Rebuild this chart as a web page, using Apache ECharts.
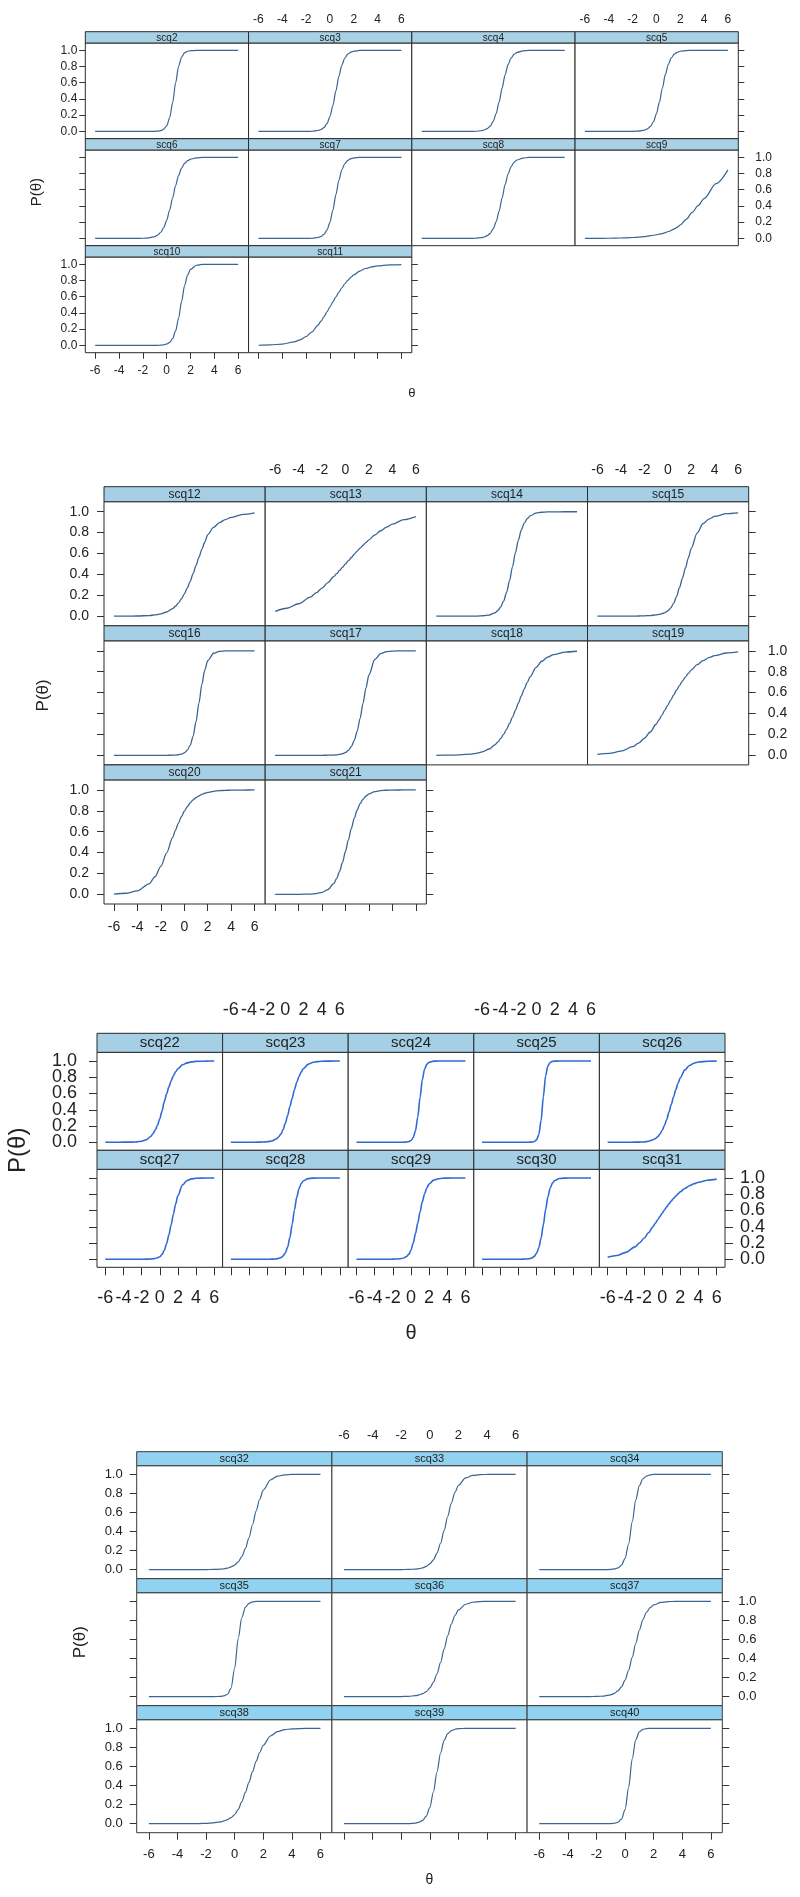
<!DOCTYPE html>
<html>
<head>
<meta charset="utf-8">
<script src="https://cdn.jsdelivr.net/npm/echarts@6/dist/echarts.min.js"></script>
<style>html,body{margin:0;padding:0;background:#fff}#c{width:800px;height:1897px}</style>
</head>
<body>
<div id="c"></div>
<script>
// ---------- data ----------
const THETA = [-6,-5,-4,-3,-2.5,-2,-1.5,-1,-0.75,-0.5,-0.25,0,0.25,0.5,0.75,1,1.25,1.5,1.75,2,2.5,3,3.5,4,5,6];
const X_TICKS = [-6,-4,-2,0,2,4,6];
const Y_TICKS = [0,0.2,0.4,0.6,0.8,1.0];

const scq2  = [0,0,0,0,0,0,0,.001,.004,.010,.027,.069,.168,.354,.599,.802,.917,.968,.988,.995,.999,1,1,1,1,1];
const scq3  = [0,0,0,0,0,.001,.002,.011,.023,.047,.095,.182,.321,.5,.679,.818,.905,.953,.977,.989,.998,.999,1,1,1,1];
const scq4  = [0,0,0,0,0,.001,.002,.008,.017,.034,.065,.123,.221,.364,.535,.698,.823,.904,.950,.974,.994,.998,1,1,1,1];
const scq5  = [0,0,0,0,0,.001,.004,.016,.032,.062,.119,.217,.361,.535,.702,.828,.907,.952,.976,.988,.997,.999,1,1,1,1];
const scq6  = [0,0,0,0,.001,.002,.007,.023,.042,.076,.133,.223,.349,.5,.651,.777,.867,.924,.958,.977,.993,.998,.999,1,1,1];
const scq7  = [0,0,0,0,0,.001,.002,.011,.024,.050,.102,.199,.350,.539,.717,.846,.923,.963,.983,.992,.998,1,1,1,1,1];
const scq8  = [0,0,0,0,0,.001,.002,.009,.017,.033,.063,.117,.206,.337,.5,.663,.794,.883,.937,.967,.991,.998,.999,1,1,1];
const scq9  = [0,.001,.002,.005,.007,.011,.016,.023,.028,.033,.039,.045,.052,.060,.071,.085,.100,.118,.140,.165,.235,.320,.405,.490,.675,.845];
const scq10 = [0,0,0,0,0,0,0,.001,.001,.003,.007,.017,.038,.085,.178,.336,.542,.735,.866,.938,.988,.998,1,1,1,1];
const scq11 = [.002,.006,.016,.043,.069,.109,.168,.250,.299,.354,.413,.475,.537,.599,.657,.711,.760,.802,.839,.870,.917,.948,.968,.980,.993,.997];
const scq12 = [0,.001,.002,.006,.012,.022,.040,.072,.095,.126,.165,.212,.269,.334,.407,.485,.565,.640,.710,.780,.850,.895,.925,.945,.975,.990];
const scq13 = [.047,.076,.119,.182,.223,.269,.321,.378,.407,.438,.469,.5,.531,.562,.593,.622,.651,.679,.706,.731,.777,.818,.852,.881,.924,.953];
const scq14 = [0,0,0,0,.001,.004,.011,.032,.054,.090,.147,.230,.341,.473,.608,.729,.824,.890,.933,.960,.986,.995,.998,.999,1,1];
const scq15 = [0,0,0,.001,.002,.003,.006,.012,.017,.024,.035,.050,.080,.125,.190,.275,.365,.460,.557,.650,.795,.885,.930,.955,.982,.990];
const scq16 = [0,0,0,0,0,0,0,.001,.002,.005,.011,.023,.047,.095,.182,.321,.5,.679,.818,.905,.977,.995,.999,1,1,1];
const scq17 = [0,0,0,0,0,0,.001,.002,.004,.008,.015,.027,.047,.083,.142,.231,.354,.5,.646,.769,.917,.973,.992,.998,1,1];
const scq18 = [0,.001,.004,.012,.021,.036,.060,.100,.127,.161,.202,.250,.305,.366,.432,.5,.568,.634,.695,.750,.839,.900,.940,.964,.988,.996];
const scq19 = [.009,.018,.039,.082,.116,.163,.223,.297,.340,.385,.433,.481,.529,.577,.625,.669,.711,.749,.784,.815,.867,.906,.934,.954,.979,.990];
const scq20 = [.002,.011,.034,.101,.169,.268,.398,.544,.616,.683,.743,.796,.839,.875,.904,.927,.944,.958,.968,.976,.987,.993,.996,.998,.999,1];
const scq21 = [0,0,.001,.003,.008,.019,.045,.103,.153,.221,.308,.411,.522,.632,.729,.808,.869,.912,.942,.962,.984,.994,.997,.999,1,1];
const scq22 = [0,0,.001,.002,.005,.012,.030,.070,.105,.150,.210,.290,.385,.5,.593,.679,.755,.818,.867,.905,.953,.977,.989,.995,.999,1];
const scq23 = [0,0,0,.001,.003,.006,.015,.040,.065,.100,.155,.235,.330,.437,.542,.645,.735,.809,.866,.908,.959,.982,.992,.997,.999,1];
const scq24 = [0,0,0,0,0,0,0,0,.001,.003,.008,.022,.057,.142,.310,.550,.769,.900,.961,.985,.998,1,1,1,1,1];
const scq25 = [0,0,0,0,0,0,0,0,.001,.002,.009,.029,.095,.269,.562,.818,.940,.982,.995,.998,1,1,1,1,1,1];
const scq26 = [0,0,0,.001,.002,.004,.012,.030,.045,.067,.100,.145,.205,.280,.372,.463,.556,.646,.726,.794,.891,.945,.973,.987,.997,.999];
const scq27 = [0,0,0,0,0,0,.001,.003,.006,.010,.018,.030,.060,.110,.190,.297,.420,.554,.679,.784,.914,.969,.989,.996,1,1];
const scq28 = [0,0,0,0,0,0,.001,.005,.010,.020,.040,.078,.149,.266,.428,.607,.761,.868,.932,.966,.992,.998,1,1,1,1];
const scq29 = [0,0,0,0,0,.001,.004,.010,.018,.032,.060,.110,.200,.316,.445,.582,.707,.807,.879,.926,.974,.991,.997,.999,1,1];
const scq30 = [0,0,0,0,0,0,.001,.004,.008,.017,.036,.072,.142,.259,.426,.611,.769,.875,.937,.969,.993,.998,1,1,1,1];
const scq31 = [.024,.046,.085,.152,.200,.258,.326,.402,.443,.484,.525,.566,.606,.644,.681,.716,.748,.778,.805,.830,.871,.904,.929,.948,.972,.986];
const scq32 = [0,0,0,0,0,.001,.002,.005,.009,.016,.028,.048,.082,.137,.220,.334,.471,.613,.738,.833,.940,.980,.994,.998,1,1];
const scq33 = [0,0,0,0,0,.001,.002,.006,.010,.019,.034,.060,.103,.174,.277,.411,.560,.698,.808,.885,.962,.988,.996,.999,1,1];
const scq34 = [0,0,0,0,0,0,0,.002,.007,.018,.047,.119,.269,.5,.731,.881,.953,.982,.993,.998,1,1,1,1,1,1];
const scq35 = [0,0,0,0,0,0,.001,.002,.007,.025,.090,.300,.611,.829,.937,.979,.993,.998,.999,1,1,1,1,1,1,1];
const scq36 = [0,0,0,0,0,.001,.003,.010,.018,.031,.053,.091,.151,.240,.360,.5,.640,.760,.849,.909,.969,.990,.997,.999,1,1];
const scq37 = [0,0,0,0,.001,.002,.006,.019,.034,.060,.103,.174,.277,.411,.560,.698,.808,.885,.933,.962,.988,.996,.999,1,1,1];
const scq38 = [0,0,0,.001,.001,.003,.008,.018,.028,.043,.064,.095,.150,.230,.327,.433,.545,.652,.746,.822,.919,.965,.986,.994,.999,1];
const scq39 = [0,0,0,0,0,0,.001,.006,.015,.035,.079,.171,.332,.544,.741,.873,.943,.975,.990,.996,.999,1,1,1,1,1];
const scq40 = [0,0,0,0,0,0,0,.001,.004,.014,.047,.148,.378,.679,.881,.963,.989,.997,.999,1,1,1,1,1,1,1];

const PANEL1_ITEMS = ['scq2','scq3','scq4','scq5','scq6','scq7','scq8','scq9','scq10','scq11'];
const PANEL2_ITEMS = ['scq12','scq13','scq14','scq15','scq16','scq17','scq18','scq19','scq20','scq21'];
const PANEL3_ITEMS = ['scq22','scq23','scq24','scq25','scq26','scq27','scq28','scq29','scq30','scq31'];
const PANEL4_ITEMS = ['scq32','scq33','scq34','scq35','scq36','scq37','scq38','scq39','scq40'];

const ICC = {scq2,scq3,scq4,scq5,scq6,scq7,scq8,scq9,scq10,scq11,scq12,scq13,scq14,scq15,scq16,scq17,scq18,scq19,scq20,
  scq21,scq22,scq23,scq24,scq25,scq26,scq27,scq28,scq29,scq30,scq31,scq32,scq33,scq34,scq35,scq36,scq37,scq38,scq39,scq40};

// ---------- layout / style ----------
const FONT = "'Liberation Sans', Arial, sans-serif";
const LAYOUT = [
  {items: PANEL1_ITEMS, ncol:4, nrow:3, left:85.3, right:738.3, top:31.7, bottom:352.7, stripH:11.3,
   xMin:-6.83, xMax:6.87, yMin:-0.09, yMax:1.09, fs:12, stripFs:10, tick:6, splitY:false,
   mL:8, mR:11, mT:11, mB:12, oT:6, oR:6, line:'#3a6491', lw:1.2, strip:'#a9d1e6', border:'#2a2a2a',
   ylab:{x:37, fs:15}, xlab:{y:393, fs:13}},
  {items: PANEL2_ITEMS, ncol:4, nrow:3, left:104, right:748.7, top:486.7, bottom:904, stripH:15,
   xMin:-6.85, xMax:6.9, yMin:-0.092, yMax:1.096, fs:14, stripFs:12, tick:7, splitY:false,
   mL:15, mR:14, mT:12, mB:16, oT:13, oR:5, line:'#3a6491', lw:1.3, strip:'#a6cfe5', border:'#2a2a2a',
   ylab:{x:43, fs:17}, xlab:null},
  {items: PANEL3_ITEMS, ncol:5, nrow:2, left:97, right:725, top:1033.3, bottom:1267.3, stripH:19,
   xMin:-6.91, xMax:6.92, yMin:-0.099, yMax:1.107, fs:18, stripFs:15, tick:8, splitY:true,
   mL:20, mR:12, mT:17, mB:22, oT:16, oR:3, line:'#2f6ad6', lw:1.6, strip:'#a5cfe5', border:'#2a2a2a',
   ylab:{x:18, fs:24}, xlab:{y:1333, fs:20}},
  {items: PANEL4_ITEMS, ncol:3, nrow:3, left:136.7, right:722.3, top:1451.7, bottom:1832.7, stripH:14,
   xMin:-6.85, xMax:6.8, yMin:-0.095, yMax:1.09, fs:13, stripFs:11, tick:7, splitY:false,
   mL:14, mR:15, mT:12, mB:15, oT:12, oR:1, line:'#3a6491', lw:1.2, strip:'#90d2f0', border:'#3a3a3a',
   ylab:{x:80, fs:17}, xlab:{y:1880, fs:14}}
];

const ALIGN = {
  top:{align:'center', verticalAlign:'bottom'},
  bottom:{align:'center', verticalAlign:'top'},
  left:{align:'right', verticalAlign:'middle'},
  right:{align:'left', verticalAlign:'middle'}
};

const option = {animation:false, backgroundColor:'#fff', grid:[], xAxis:[], yAxis:[], series:[], graphic:[]};

// one axis: ticks (optional) + labels (optional list of values)
function addAxis(kind, P, gi, position, showTick, labelValues, margin, offset){
  const isX = kind==='x';
  const ticks = isX ? X_TICKS : Y_TICKS;
  const ax = {
    type:'value', gridIndex:gi, position:position, offset:offset||0,
    min: isX ? P.xMin : P.yMin, max: isX ? P.xMax : P.yMax,
    splitLine:{show:false}, axisLine:{show:false, onZero:false},
    axisTick:{show:showTick, customValues:ticks, length:P.tick, inside:false, lineStyle:{color:'#333', width:1}},
    axisLabel:Object.assign({
      show: !!labelValues, customValues: labelValues || ticks, margin: margin,
      color:'#222', fontSize:P.fs, fontFamily:FONT, showMinLabel:true, showMaxLabel:true, hideOverlap:false,
      formatter: isX ? (v=>String(v)) : (v=>v.toFixed(1))
    }, ALIGN[position])
  };
  const list = isX ? option.xAxis : option.yAxis;
  list.push(ax);
  return list.length-1;
}

function addYLabels(P, gi, position, margin, offset){
  if(!P.splitY){ addAxis('y', P, gi, position, false, Y_TICKS, margin, offset); return; }
  // tightly packed labels: spread over two overlaid axes so none is dropped
  addAxis('y', P, gi, position, false, Y_TICKS.filter((v,k)=>k%2===0), margin, offset);
  addAxis('y', P, gi, position, false, Y_TICKS.filter((v,k)=>k%2===1), margin, offset);
}

LAYOUT.forEach(P=>{
  const colW = (P.right-P.left)/P.ncol;
  const rowStep = (P.bottom-P.top)/P.nrow;
  const plotH = rowStep-P.stripH;
  P.items.forEach((name,i)=>{
    const row = Math.floor(i/P.ncol), col = i%P.ncol;
    const inRow = Math.min(P.ncol, P.items.length-row*P.ncol);
    const gx = P.left+col*colW, gy = P.top+row*rowStep+P.stripH;
    const gi = option.grid.length;
    option.grid.push({left:gx, top:gy, width:colW, height:plotH, show:true,
      borderColor:P.border, borderWidth:1, backgroundColor:'#fff'});
    const isBottom = row===P.nrow-1;
    // bottom (main x) axis
    const xi = addAxis('x', P, gi, 'bottom', isBottom, (isBottom && col%2===0) ? X_TICKS : null, P.mB);
    // top ticks + alternating labels
    if(row===0){
      addAxis('x', P, gi, 'top', true, null, P.mT);
      if(col%2===1) addAxis('x', P, gi, 'top', false, X_TICKS, P.mT, P.oT);
    }
    // left (main y) axis: ticks on first column, labels on alternating rows
    const yi = addAxis('y', P, gi, 'left', col===0, null, P.mL);
    if(col===0 && row%2===0) addYLabels(P, gi, 'left', P.mL, 0);
    // right ticks on the last panel of each row, labels on alternating rows
    if(col===inRow-1){
      addAxis('y', P, gi, 'right', true, null, P.mR);
      if(row%2===1) addYLabels(P, gi, 'right', P.mR, P.oR);
    }
    option.series.push({
      type:'line', name:name, xAxisIndex:xi, yAxisIndex:yi,
      data:THETA.map((t,k)=>[t, ICC[name][k]]),
      showSymbol:false, smooth:0.3, smoothMonotone:'x', silent:true,
      lineStyle:{color:P.line, width:P.lw}
    });
    // strip
    option.graphic.push({type:'rect', silent:true, z:5,
      shape:{x:gx, y:gy-P.stripH, width:colW, height:P.stripH},
      style:{fill:P.strip, stroke:P.border, lineWidth:1}});
    option.graphic.push({type:'text', silent:true, z:6,
      style:{text:name, x:gx+colW/2, y:gy-P.stripH/2+0.5, align:'center', verticalAlign:'middle',
        fontSize:P.stripFs, fontFamily:FONT, fill:'#222'}});
  });
  // axis titles
  option.graphic.push({type:'text', silent:true, x:P.ylab.x, y:(P.top+P.bottom)/2, rotation:Math.PI/2,
    style:{text:'P(θ)', x:0, y:0, align:'center', verticalAlign:'middle', fontSize:P.ylab.fs, fontFamily:FONT, fill:'#222'}});
  if(P.xlab){
    option.graphic.push({type:'text', silent:true,
      style:{text:'θ', x:(P.left+P.right)/2, y:P.xlab.y, align:'center', verticalAlign:'middle',
        fontSize:P.xlab.fs, fontFamily:FONT, fill:'#222'}});
  }
});

const chart = echarts.init(document.getElementById('c'), null, {renderer:'canvas'});
chart.setOption(option);
</script>
</body>
</html>
